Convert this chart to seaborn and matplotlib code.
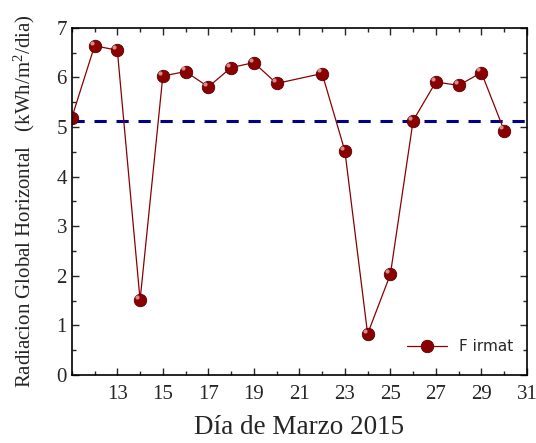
import matplotlib
matplotlib.use("Agg")
import matplotlib.pyplot as plt
import matplotlib.transforms as mtransforms
import seaborn as sns
import pandas as pd
from matplotlib.ticker import MultipleLocator

days = [11, 12, 13, 14, 15, 16, 17, 18, 19, 20, 22, 23, 24, 25, 26, 27, 28, 29, 30]
radiation = [5.19, 6.64, 6.55, 1.51, 6.03, 6.12, 5.81, 6.20, 6.30, 5.88, 6.08,
             4.52, 0.83, 2.03, 5.13, 5.91, 5.84, 6.10, 4.93]
mean_value = 5.13
series_name = "F irmat"
x_ticks = [13, 15, 17, 19, 21, 23, 25, 27, 29, 31]

df = pd.DataFrame({"day": days, "rad": radiation, "serie": series_name})

sns.set_style("ticks")
plt.rcParams["font.family"] = ["Liberation Serif", "DejaVu Serif"]
plt.rcParams["mathtext.fontset"] = "custom"
plt.rcParams["mathtext.rm"] = "Liberation Serif"
plt.rcParams["mathtext.it"] = "Liberation Serif:italic"

fig = plt.figure(figsize=(5.36, 4.43), dpi=100)
ax = fig.add_axes([0.134, 0.1535, 0.849, 0.7835])

sns.lineplot(data=df, x="day", y="rad", hue="serie", palette=["#8B0000"],
             marker="o", markersize=9, linewidth=0.9,
             markeredgecolor="#5a0000", markeredgewidth=0.6, ax=ax)
# small highlight for the sphere look
hl = mtransforms.offset_copy(ax.transData, fig=fig, x=-2.2, y=2.2, units="points")
ax.plot(days, radiation, linestyle="none", marker="o", markersize=3,
        color="#e8b0b0", markeredgewidth=0, alpha=0.8, transform=hl, zorder=5)
ax.axhline(mean_value, color="#00008B", linestyle=(0, (4, 3.2)), linewidth=2.2, zorder=1)

ax.set_xlim(11, 31)
ax.set_ylim(0, 7)
ax.set_xticks(x_ticks)
ax.xaxis.set_minor_locator(MultipleLocator(1))
ax.yaxis.set_major_locator(MultipleLocator(1))
ax.yaxis.set_minor_locator(MultipleLocator(0.5))
ax.tick_params(which="both", direction="in", top=True, right=True, labelsize=15)
ax.tick_params(which="major", length=5, width=1)
ax.tick_params(which="minor", length=3, width=1)
ax.tick_params(axis="x", pad=7)
for s in ax.spines.values():
    s.set_linewidth(1.2)
    s.set_color("black")

ax.set_xlabel("Día de Marzo 2015", fontsize=19.5, labelpad=8)
ax.set_ylabel("Radiacion Global Horizontal   (kWh/m$^2$/dia)", fontsize=15, labelpad=14)

leg = ax.legend(loc="lower right", frameon=False, handlelength=2.6,
                prop={"family": "DejaVu Sans", "size": 11}, bbox_to_anchor=(1.0, 0.02))

fig.savefig("out.png", dpi=100)
